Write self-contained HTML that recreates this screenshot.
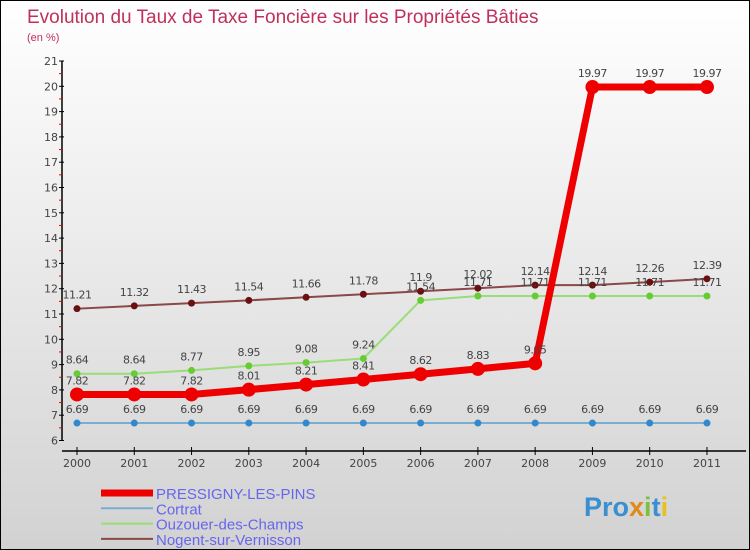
<!DOCTYPE html>
<html><head><meta charset="utf-8"><style>
body{margin:0}
#c{width:750px;height:550px;position:relative;box-sizing:border-box;border:1px solid #000;background:linear-gradient(#ffffff,#d2d2d2);overflow:hidden;font-family:"DejaVu Sans","Liberation Sans",sans-serif}
</style></head><body>
<div id="c">
<svg id="s" width="750" height="550" style="position:absolute;left:0;top:0">
<text x="26" y="22" font-size="19" fill="#c0305a" font-family="Liberation Sans, sans-serif">Evolution du Taux de Taxe Foncière sur les Propriétés Bâties</text>
<text x="26" y="40" font-size="11" fill="#c0305a" font-family="Liberation Sans, sans-serif">(en %)</text>
<g id="axes"></g><g id="series"></g><g id="legend"></g>
<g font-family="Liberation Sans, sans-serif" font-size="27" font-weight="bold">
<text x="583" y="515"><tspan fill="#3a8fd0">Pro</tspan><tspan fill="#e08a1a">x</tspan><tspan fill="#7cc040">i</tspan><tspan fill="#3a8fd0">t</tspan><tspan fill="#e8c020">i</tspan></text>
</g>
</svg>
</div>
<script>
const years=['2000','2001','2002','2003','2004','2005','2006','2007','2008','2009','2010','2011'];
const pressigny=[7.82,7.82,7.82,8.01,8.21,8.41,8.62,8.83,9.05,19.97,19.97,19.97];
const cortrat=[6.69,6.69,6.69,6.69,6.69,6.69,6.69,6.69,6.69,6.69,6.69,6.69];
const ouzouer=[8.64,8.64,8.77,8.95,9.08,9.24,11.54,11.71,11.71,11.71,11.71,11.71];
const nogent=[11.21,11.32,11.43,11.54,11.66,11.78,11.9,12.02,12.14,12.14,12.26,12.39];
const yTicks=[6,7,8,9,10,11,12,13,14,15,16,17,18,19,20,21];
const NS='http://www.w3.org/2000/svg';
const xs=i=>76+i*57.27;
const ys=v=>439.5-(v-6)*25.3;
function mk(p,t,a){const e=document.createElementNS(NS,t);for(const k in a)e.setAttribute(k,a[k]);p.appendChild(e);return e;}
const ax=document.getElementById('axes');
let l=mk(ax,'line',{x1:61,y1:60,x2:61,y2:440,stroke:'#000','stroke-width':1.5});

l=mk(ax,'line',{x1:61,y1:450,x2:745,y2:450,stroke:'#000','stroke-width':1.5});

yTicks.forEach(v=>{
 mk(ax,'line',{x1:58,y1:ys(v),x2:63,y2:ys(v),stroke:'#000'});
 if(v<21)mk(ax,'line',{x1:58,y1:ys(v+0.5),x2:61,y2:ys(v+0.5),stroke:'#e00'});
 const t=mk(ax,'text',{x:57,y:ys(v)+4,'text-anchor':'end','font-size':11,fill:'#444'});t.textContent=v;
 
});
years.forEach((y,i)=>{
 mk(ax,'line',{x1:xs(i),y1:446,x2:xs(i),y2:454,stroke:'#000'});
 const t=mk(ax,'text',{x:xs(i),y:466,'text-anchor':'middle','font-size':11,fill:'#444'});t.textContent=y;
 
});
const S=document.getElementById('series');
function draw(data,color,w,r,dot,name){
 const g=mk(S,'g',{});
 
 mk(g,'polyline',{points:data.map((v,i)=>xs(i)+','+ys(v)).join(' '),fill:'none',stroke:color,'stroke-width':w,'stroke-linejoin':'round'});
 data.forEach((v,i)=>{
  const c=mk(g,'circle',{cx:xs(i),cy:ys(v),r:r,fill:dot});
  
  const t=mk(g,'text',{x:xs(i),y:ys(v)-10,'text-anchor':'middle','font-size':11,fill:'#444','letter-spacing':'-0.5'});t.textContent=v;
  
 });
}
draw(nogent,'#8a4848',2,3.5,'#6a1010','series-nogent');
draw(ouzouer,'#99dd77',2,3.5,'#66cc33','series-ouzouer');
draw(cortrat,'#7aaed0',2,3.5,'#3388cc','series-cortrat');
draw(pressigny,'#ee0000',7,7,'#ee0000','series-pressigny');
const L=document.getElementById('legend');
[['PRESSIGNY-LES-PINS','#ee0000',7],['Cortrat','#7aaed0',2],['Ouzouer-des-Champs','#99dd77',2],['Nogent-sur-Vernisson','#8a4848',2]].forEach((d,i)=>{
 const y=492+i*15.3;
 const g=mk(L,'g',{});
 
 mk(g,'line',{x1:100,y1:y,x2:152,y2:y,stroke:d[1],'stroke-width':d[2]});
 const t=mk(g,'text',{x:155,y:y+6,'font-size':15,fill:'#6666ee','font-family':'Liberation Sans, sans-serif'});t.textContent=d[0];
});
</script>
</body></html>
